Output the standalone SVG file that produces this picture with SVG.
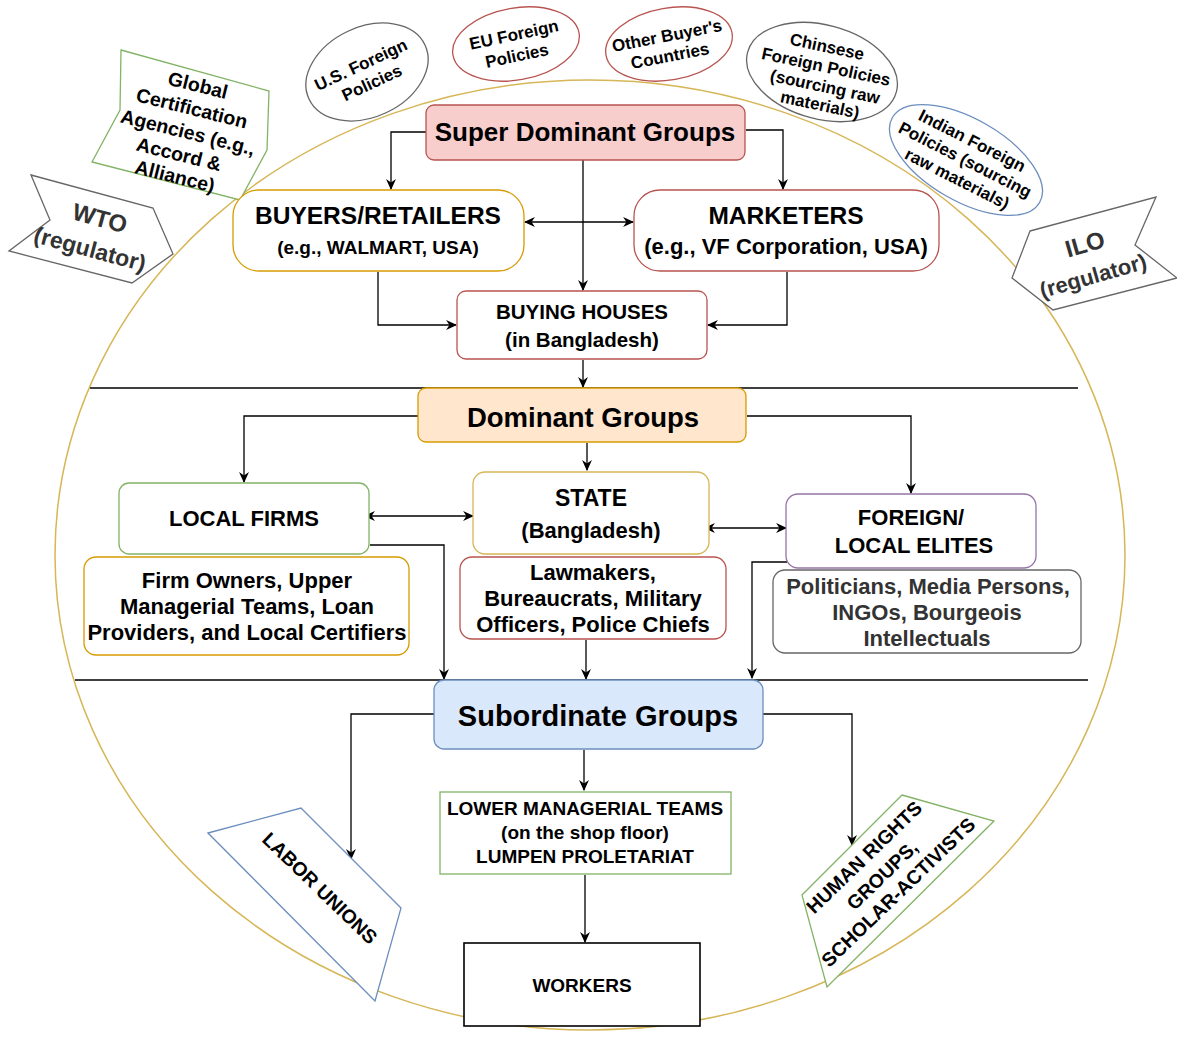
<svg xmlns="http://www.w3.org/2000/svg" width="1177" height="1038" viewBox="0 0 1177 1038">
<defs>
<marker id="arr" viewBox="0 0 10 10" refX="9" refY="5" markerWidth="11" markerHeight="11" markerUnits="userSpaceOnUse" orient="auto-start-reverse">
<path d="M0,0.5 L10,5 L0,9.5 L3,5 Z" fill="#000"/>
</marker>
<style>
text{font-family:"Liberation Sans",Arial,sans-serif;font-weight:bold;text-anchor:middle;dominant-baseline:central;fill:#000}
.c{fill:none;stroke:#000;stroke-width:1.3}
.a{marker-end:url(#arr)}
.d{marker-start:url(#arr);marker-end:url(#arr)}
.box{fill:#fff;stroke-width:1.3}
.red{stroke:#b85450}
.org{stroke:#d79b00}
.yel{stroke:#d6b656}
.grn{stroke:#82b366}
.pur{stroke:#9673a6}
.gry{stroke:#666}
.blu{stroke:#6c8ebf}
.g3{fill:#333}
</style>
</defs>
<rect width="1177" height="1038" fill="#fff"/>

<!-- big ellipse -->
<ellipse cx="590" cy="555" rx="535" ry="475" fill="none" stroke="#d6b656" stroke-width="1.5"/>
<line x1="90" y1="388" x2="1078" y2="388" stroke="#000" stroke-width="1.5"/>
<line x1="75" y1="680" x2="1088" y2="680" stroke="#000" stroke-width="1.5"/>

<!-- outer actors -->
<g id="global-cert">
<polygon points="121,50 269,91 267,150 240,200 92,162 120,110" fill="#fff" stroke="#82b366" stroke-width="1.3"/>
<g font-size="19.5">
<text x="198" y="85" transform="rotate(14 198 85)">Global</text>
<text x="192" y="108" transform="rotate(14 192 108)">Certification</text>
<text x="188" y="132" transform="rotate(14 188 132)">Agencies (e.g.,</text>
<text x="179" y="154" transform="rotate(14 179 154)">Accord &amp;</text>
<text x="175" y="176" transform="rotate(14 175 176)">Alliance)</text>
</g>
</g>
<g id="wto">
<polygon points="31,175 153,208 173,254 132,283 9,251 50,220" fill="#fff" stroke="#666" stroke-width="1.3"/>
<text class="g3" x="100" y="218" font-size="24" transform="rotate(15 100 218)">WTO</text>
<text class="g3" x="90" y="249" font-size="23" transform="rotate(15 90 249)">(regulator)</text>
</g>
<g id="ilo">
<polygon points="1030,231 1156,197 1135,245 1177,278 1053,310 1012,278" fill="#fff" stroke="#666" stroke-width="1.3"/>
<text class="g3" x="1085" y="244" font-size="24" transform="rotate(-16 1085 244)">ILO</text>
<text class="g3" x="1093" y="276" font-size="22" transform="rotate(-16 1093 276)">(regulator)</text>
</g>
<g id="us-policies">
<ellipse cx="367" cy="72" rx="64" ry="45" transform="rotate(-25 367 72)" fill="#fff" stroke="#666" stroke-width="1.3"/>
<text x="361" y="65" font-size="17" transform="rotate(-25 361 65)">U.S. Foreign</text>
<text x="372" y="83" font-size="17" transform="rotate(-25 372 83)">Policies</text>
</g>
<g id="eu-policies">
<ellipse cx="516" cy="44" rx="64" ry="36" transform="rotate(-10 516 44)" fill="#fff" stroke="#b85450" stroke-width="1.3"/>
<text x="514" y="35" font-size="17" transform="rotate(-12 514 35)">EU Foreign</text>
<text x="517" y="56" font-size="17" transform="rotate(-12 517 56)">Policies</text>
</g>
<g id="other-buyers">
<ellipse cx="669" cy="44" rx="64" ry="36" transform="rotate(-10 669 44)" fill="#fff" stroke="#b85450" stroke-width="1.3"/>
<text x="667" y="36" font-size="17" transform="rotate(-11 667 36)">Other Buyer's</text>
<text x="670" y="56" font-size="17" transform="rotate(-11 670 56)">Countries</text>
</g>
<g id="chinese-policies">
<ellipse cx="822" cy="72" rx="77" ry="47" transform="rotate(15 822 72)" fill="#fff" stroke="#666" stroke-width="1.3"/>
<text x="827" y="47" font-size="17" transform="rotate(12 827 47)">Chinsese</text>
<text x="826" y="67" font-size="17" transform="rotate(12 826 67)">Foreign Policies</text>
<text x="825" y="87" font-size="17" transform="rotate(12 825 87)">(sourcing raw</text>
<text x="820" y="105" font-size="17" transform="rotate(12 820 105)">materials)</text>
</g>
<g id="indian-policies">
<ellipse cx="966" cy="160" rx="85" ry="41" transform="rotate(30 966 160)" fill="#fff" stroke="#6c8ebf" stroke-width="1.3"/>
<text x="972" y="141" font-size="17" transform="rotate(27 972 141)">Indian Foreign</text>
<text x="965" y="160" font-size="17" transform="rotate(27 965 160)">Policies (sourcing</text>
<text x="957" y="179" font-size="17" transform="rotate(27 957 179)">raw materials)</text>
</g>

<!-- connectors -->
<g id="connectors">
<path class="c a" d="M426,132 H391 V189"/>
<path class="c a" d="M746,130 H783 V189"/>
<path class="c a" d="M583,160 V290"/>
<path class="c d" d="M525,222 H633"/>
<path class="c a" d="M378,272 V325 H456"/>
<path class="c a" d="M787,272 V325 H708"/>
<path class="c a" d="M583,360 V387"/>
<path class="c a" d="M418,416 H244 V482"/>
<path class="c a" d="M587,443 V470"/>
<path class="c a" d="M747,416 H911 V493"/>
<path class="c d" d="M365,516 H473"/>
<path class="c d" d="M705,528 H786"/>
<path class="c a" d="M370,545 H444 V679"/>
<path class="c a" d="M586,640 V679"/>
<path class="c a" d="M787,562 H752 V678"/>
<path class="c a" d="M434,714 H351 V859"/>
<path class="c a" d="M584,750 V790"/>
<path class="c a" d="M763,714 H852 V845"/>
<path class="c a" d="M585,875 V942"/>
</g>

<!-- super dominant -->
<g id="super-dominant">
<rect x="426" y="105" width="319" height="55" rx="8" fill="#f8cecc" stroke="#b85450" stroke-width="1.3"/>
<text x="585" y="132" font-size="26">Super Dominant Groups</text>
</g>
<g id="buyers">
<rect class="box org" x="233" y="190" width="291" height="81" rx="26"/>
<text x="378" y="215" font-size="24.5">BUYERS/RETAILERS</text>
<text x="378" y="247" font-size="19">(e.g., WALMART, USA)</text>
</g>
<g id="marketers">
<rect class="box red" x="634" y="190" width="305" height="81" rx="26"/>
<text x="786" y="215" font-size="24.5">MARKETERS</text>
<text x="786" y="246" font-size="22">(e.g., VF Corporation, USA)</text>
</g>
<g id="buying-houses">
<rect class="box red" x="457" y="291" width="250" height="68" rx="9"/>
<text x="582" y="311" font-size="20.5">BUYING HOUSES</text>
<text x="582" y="339" font-size="20.5">(in Bangladesh)</text>
</g>

<!-- dominant -->
<g id="dominant">
<rect x="418" y="388" width="328" height="54" rx="8" fill="#ffe6cc" stroke="#d79b00" stroke-width="1.3"/>
<text x="583" y="417" font-size="27.5">Dominant Groups</text>
</g>
<g id="local-firms">
<rect class="box grn" x="119" y="483" width="250" height="71" rx="10"/>
<text x="244" y="518" font-size="22">LOCAL FIRMS</text>
</g>
<g id="firm-owners">
<rect class="box org" x="84" y="557" width="325" height="98" rx="12"/>
<text x="247" y="580" font-size="22">Firm Owners, Upper</text>
<text x="247" y="606" font-size="22">Managerial Teams, Loan</text>
<text x="247" y="632" font-size="22">Providers, and Local Certifiers</text>
</g>
<g id="state">
<rect class="box yel" x="473" y="472" width="236" height="82" rx="12"/>
<text x="591" y="498" font-size="23">STATE</text>
<text x="591" y="530" font-size="22">(Bangladesh)</text>
</g>
<g id="lawmakers">
<rect class="box red" x="460" y="557" width="266" height="82" rx="12"/>
<text x="593" y="572" font-size="22">Lawmakers,</text>
<text x="593" y="598" font-size="22">Bureaucrats, Military</text>
<text x="593" y="624" font-size="22">Officers, Police Chiefs</text>
</g>
<g id="foreign-elites">
<rect class="box pur" x="786" y="494" width="250" height="74" rx="12"/>
<text x="911" y="517" font-size="22">FOREIGN/</text>
<text x="914" y="545" font-size="22">LOCAL ELITES</text>
</g>
<g id="politicians">
<rect class="box gry" x="773" y="570" width="308" height="83" rx="12"/>
<text class="g3" x="928" y="586" font-size="22">Politicians, Media Persons,</text>
<text class="g3" x="927" y="612" font-size="22">INGOs, Bourgeois</text>
<text class="g3" x="927" y="638" font-size="22">Intellectuals</text>
</g>

<!-- subordinate -->
<g id="subordinate">
<rect x="434" y="680" width="329" height="69" rx="10" fill="#dae8fc" stroke="#6c8ebf" stroke-width="1.3"/>
<text x="598" y="716" font-size="29">Subordinate Groups</text>
</g>
<g id="lower-managerial">
<rect class="box grn" x="440" y="792" width="291" height="82"/>
<text x="585" y="808" font-size="19">LOWER MANAGERIAL TEAMS</text>
<text x="585" y="832" font-size="19">(on the shop floor)</text>
<text x="585" y="856" font-size="19">LUMPEN PROLETARIAT</text>
</g>
<g id="workers">
<rect x="464" y="943" width="236" height="83" fill="#fff" stroke="#000" stroke-width="1.6"/>
<text x="582" y="985" font-size="19">WORKERS</text>
</g>
<g id="labor-unions">
<polygon points="208,833 301,808 401,908 375,1001" fill="#fff" stroke="#6c8ebf" stroke-width="1.3"/>
<text x="320" y="888" font-size="19.5" transform="rotate(44 320 888)">LABOR UNIONS</text>
</g>
<g id="human-rights">
<polygon points="902,795 994,821 827,987 802,895" fill="#fff" stroke="#82b366" stroke-width="1.3"/>
<text x="864" y="857" font-size="19.5" transform="rotate(-44 864 857)">HUMAN RIGHTS</text>
<text x="882" y="875" font-size="19.5" transform="rotate(-44 882 875)">GROUPS,</text>
<text x="898" y="892" font-size="19.5" transform="rotate(-44 898 892)">SCHOLAR-ACTIVISTS</text>
</g>
</svg>
